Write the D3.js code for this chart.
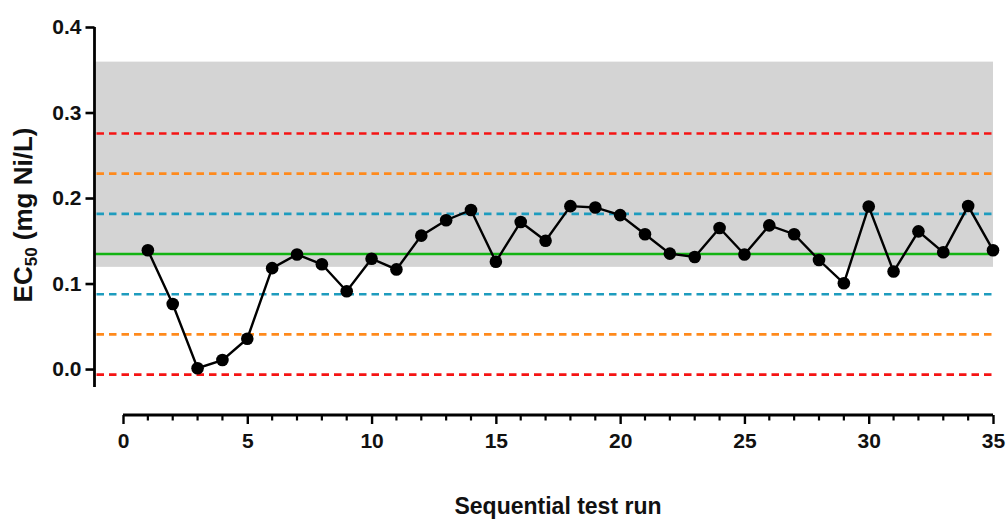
<!DOCTYPE html>
<html>
<head>
<meta charset="utf-8">
<script src="https://cdn.jsdelivr.net/npm/d3@7"></script>
<style>
  html, body { margin: 0; padding: 0; background: #fff; }
  svg { display: block; font-family: "Liberation Sans", Arial, sans-serif; font-weight: bold; }
</style>
</head>
<body>
<svg id="chart" width="1006" height="519"></svg>
<script>
// Sequential test runs and measured EC50 values (mg Ni/L)
const runs = d3.range(1, 36);
const ec50 = [0.139, 0.076, 0.001, 0.0105, 0.0355, 0.118, 0.134, 0.1225, 0.091, 0.129,
              0.1165, 0.156, 0.174, 0.186, 0.1255, 0.172, 0.150, 0.1905, 0.189, 0.180,
              0.1577, 0.135, 0.131, 0.165, 0.134, 0.168, 0.1577, 0.1275, 0.1003, 0.190,
              0.114, 0.161, 0.1365, 0.1906, 0.139];

// Control chart reference lines: mean, ±1 SD, ±2 SD, ±3 SD
const meanValue = 0.1345;
const sdValue = 0.047;
const controlLines = [
  { k: 3, color: "#f51414" },
  { k: 2, color: "#ff8a1c" },
  { k: 1, color: "#1e9cbe" }
];
// Shaded acceptance range
const band = [0.1195, 0.3595];

const xTicks = [0, 5, 10, 15, 20, 25, 30, 35];
const yTicks = [0.0, 0.1, 0.2, 0.3, 0.4];

const svg = d3.select("#chart");

const x = d3.scaleLinear().domain([0, 35]).range([123, 993]);
const y = d3.scaleLinear().domain([-0.021, 0.4]).range([387, 27]);
const axisX0 = 94.5;   // vertical axis position
const axisY0 = 415;    // horizontal axis position (offset below plot)
const labelFont = "Liberation Sans, Arial, sans-serif";

// Shaded band
svg.append("rect")
  .attr("x", axisX0 + 1)
  .attr("width", x(35) - axisX0 - 1)
  .attr("y", y(band[1]))
  .attr("height", y(band[0]) - y(band[1]))
  .attr("fill", "#d4d4d4");

// Dashed SD lines
controlLines.forEach(c => {
  [meanValue + c.k * sdValue, meanValue - c.k * sdValue].forEach(v => {
    svg.append("line")
      .attr("x1", axisX0 + 2).attr("x2", x(35))
      .attr("y1", y(v)).attr("y2", y(v))
      .attr("stroke", c.color)
      .attr("stroke-width", 2.6)
      .attr("stroke-dasharray", "7.5,5");
  });
});

// Mean line
svg.append("line")
  .attr("x1", axisX0 + 1).attr("x2", x(35))
  .attr("y1", y(meanValue)).attr("y2", y(meanValue))
  .attr("stroke", "#12b312")
  .attr("stroke-width", 2.6);

// Data line and points
const pts = runs.map((r, i) => [r, ec50[i]]);
svg.append("path")
  .datum(pts)
  .attr("fill", "none")
  .attr("stroke", "#000")
  .attr("stroke-width", 2.4)
  .attr("d", d3.line().x(d => x(d[0])).y(d => y(d[1])));

svg.append("g").selectAll("circle")
  .data(pts)
  .join("circle")
  .attr("cx", d => x(d[0]))
  .attr("cy", d => y(d[1]))
  .attr("r", 6.3)
  .attr("fill", "#000");

// Y axis
const yAxis = svg.append("g")
  .attr("transform", `translate(${axisX0},0)`)
  .call(d3.axisLeft(y).tickValues(yTicks).tickFormat(d3.format(".1f")).tickSize(9).tickPadding(4));
yAxis.select(".domain").attr("d", `M0,${y(0.4)}V${y.range()[0]}`).attr("stroke-width", 2.8);
yAxis.selectAll(".tick line").attr("stroke-width", 2.6);
yAxis.selectAll(".tick text").attr("font-size", 21).attr("font-weight", "bold").attr("fill", "#111")
  .attr("font-family", labelFont);

// X axis
const xAxis = svg.append("g")
  .attr("transform", `translate(0,${axisY0})`)
  .call(d3.axisBottom(x).tickValues(xTicks).tickSize(9).tickPadding(9));
xAxis.select(".domain").attr("d", `M${x(0)},0H${x(35)}`).attr("stroke-width", 2.8);
xAxis.selectAll(".tick line").attr("stroke-width", 2.4);
xAxis.selectAll(".tick text").attr("font-size", 21).attr("font-weight", "bold").attr("fill", "#111")
  .attr("font-family", labelFont);

// Minor ticks at each run
svg.append("g")
  .attr("transform", `translate(0,${axisY0})`)
  .selectAll("line")
  .data(d3.range(0, 36).filter(v => v % 5 !== 0))
  .join("line")
  .attr("x1", d => x(d)).attr("x2", d => x(d))
  .attr("y1", 0).attr("y2", 5.5)
  .attr("stroke", "#000").attr("stroke-width", 2.2);

// Axis titles
svg.append("text")
  .attr("x", (x(0) + x(35)) / 2)
  .attr("y", 514)
  .attr("text-anchor", "middle")
  .attr("font-size", 23)
  .attr("fill", "#111")
  .text("Sequential test run");

const yTitle = svg.append("text")
  .attr("transform", "translate(32,215) rotate(-90)")
  .attr("text-anchor", "middle")
  .attr("font-size", 26)
  .attr("fill", "#111");
yTitle.append("tspan").text("EC");
yTitle.append("tspan").attr("font-size", 17).attr("dy", 5).text("50");
yTitle.append("tspan").attr("dy", -5).text(" (mg Ni/L)");
</script>
</body>
</html>
